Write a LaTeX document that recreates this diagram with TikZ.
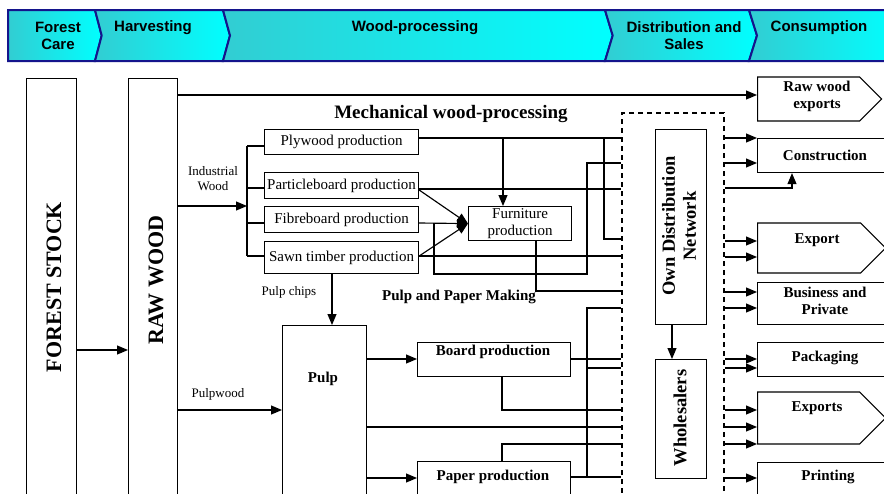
\documentclass[tikz,border=0pt]{standalone}
\usepackage{fontspec}
\setmainfont{Liberation Serif}
\newfontfamily\bannerfont{Liberation Sans}
\usetikzlibrary{arrows.meta,shapes.symbols}
\definecolor{navyb}{RGB}{20,20,140}
\definecolor{tealc}{RGB}{50,205,210}
\definecolor{cyanc}{RGB}{0,255,255}
\begin{document}
\begin{tikzpicture}[x=1pt,y=-1pt,line width=1.15pt,
  box/.style={draw,line width=1.15pt,inner sep=0pt,anchor=north west},
  sig/.style={draw,line width=1.15pt,inner sep=0pt,anchor=west,signal,signal to=east,signal pointer angle=90},
  arr/.style={-{Triangle[length=11pt,width=9pt]}},
  seg/.style={left color=tealc,right color=cyanc,draw=navyb,line width=2pt,line join=miter},
  btxt/.style={font=\bannerfont\bfseries\fontsize{15}{17}\selectfont,align=center,inner sep=0pt},
  ntxt/.style={font=\fontsize{15}{17}\selectfont,align=center,inner sep=0pt},
  stxt/.style={font=\fontsize{13}{15}\selectfont,align=center,inner sep=0pt},
  btx/.style={font=\bfseries\fontsize{15}{17}\selectfont,align=center,inner sep=0pt},
  bigtxt/.style={font=\bfseries\fontsize{22}{24}\selectfont,inner sep=0pt,rotate=90},
  vtxt/.style={font=\bfseries\fontsize{18.5}{21}\selectfont,align=center,inner sep=0pt,rotate=90},
  dashbox/.style={draw,line width=2pt,dash pattern=on 5pt off 4pt,inner sep=0pt,anchor=north west}]
\useasboundingbox (0,0) rectangle (884,493);
\clip (0,0) rectangle (884,493);
\fill[white] (0,0) rectangle (884,493);
% ---------- banner ----------
\shadedraw[seg] (8,10) -- (95,10) -- (101.7,35.5) -- (95,61) -- (8,61) -- cycle;
\shadedraw[seg] (95,10) -- (223,10) -- (230,35.5) -- (223,61) -- (95,61) -- (101.7,35.5) -- cycle;
\shadedraw[seg] (223,10) -- (605,10) -- (612.7,35.5) -- (605,61) -- (223,61) -- (230,35.5) -- cycle;
\shadedraw[seg] (605,10) -- (749,10) -- (757,35.5) -- (749,61) -- (605,61) -- (612.7,35.5) -- cycle;
\shadedraw[seg] (749,10) -- (900,10) -- (900,61) -- (749,61) -- (757,35.5) -- cycle;
\node[btxt] (b1) at (58,36) {Forest\\Care};
\node[btxt] (b2) at (153,28) {Harvesting};
\node[btxt] (b3) at (415,28) {Wood-processing};
\node[btxt] (b4) at (684,36) {Distribution and\\Sales};
\node[btxt] (b5) at (819,28) {Consumption};
% ---------- boxes ----------
\node[box,minimum width=50pt,minimum height=450pt] (fs) at (26,78) {};
\node[bigtxt] (fst) at (54,287) {FOREST STOCK};
\node[box,minimum width=49pt,minimum height=450pt] (rw) at (128,78) {};
\node[bigtxt] (rwt) at (156,280) {RAW WOOD};
\node[box,minimum width=154pt,minimum height=25pt,ntxt] (ply) at (264,129) {Plywood production};
\node[box,minimum width=154pt,minimum height=26pt,ntxt] (part) at (264,172) {Particleboard production};
\node[box,minimum width=154pt,minimum height=26pt,ntxt] (fibre) at (264,206) {Fibreboard production};
\node[box,minimum width=154pt,minimum height=32pt,ntxt] (sawn) at (264,241) {Sawn timber production};
\node[box,minimum width=103pt,minimum height=34pt,ntxt] (furn) at (468,206) {Furniture\\production};
\node[box,minimum width=84pt,minimum height=200pt] (pulp) at (282,325) {};
\node[btx] (pulpt) at (323,379) {Pulp};
\node[box,minimum width=153pt,minimum height=34pt] (board) at (417,342) {};
\node[btx] (boardt) at (493,352) {Board production};
\node[box,minimum width=153pt,minimum height=50pt] (paper) at (417,461) {};
\node[btx] (papert) at (493,477) {Paper production};
\node[dashbox,minimum width=102pt,minimum height=420pt] (dbox) at (621,112) {};
\node[box,minimum width=51pt,minimum height=195pt] (odn) at (655,129) {};
\node[vtxt] (odnt) at (679,226) {Own Distribution\\Network};
\node[box,minimum width=51pt,minimum height=119pt] (whole) at (655,359) {};
\node[vtxt] (wholet) at (680,418) {Wholesalers};
% labels
\node[font=\bfseries\fontsize{19}{21}\selectfont,inner sep=0pt] (mech) at (451,114) {Mechanical wood-processing};
\node[btx] (ppm) at (459,297) {Pulp and Paper Making};
\node[stxt] (indw) at (213,179) {Industrial\\Wood};
\node[stxt] (pch) at (289,292) {Pulp chips};
\node[stxt] (pw) at (218,394) {Pulpwood};
% ---------- consumption ----------
\node[sig,minimum width=124pt,minimum height=44pt] (rwe) at (757,99) {};
\node[btx] (rwet) at (817,96) {Raw wood\\exports};
\node[box,minimum width=140pt,minimum height=34pt] (cons) at (757,138) {};
\node[btx] (const) at (825,155) {Construction};
\node[sig,minimum width=128pt,minimum height=50pt] (exp) at (757,248) {};
\node[btx] (expt) at (817,240) {Export};
\node[box,minimum width=140pt,minimum height=42pt] (bus) at (757,282) {};
\node[btx] (bust) at (825,301) {Business and\\Private};
\node[box,minimum width=140pt,minimum height=34pt] (pack) at (757,342) {};
\node[btx] (packt) at (825,358) {Packaging};
\node[sig,minimum width=128pt,minimum height=52pt] (exps) at (757,418) {};
\node[btx] (expst) at (817,408) {Exports};
\node[box,minimum width=140pt,minimum height=50pt] (print) at (757,462) {};
\node[btx] (printt) at (828,477) {Printing};
% ---------- connectors ----------
\draw[arr] (fs.east |- 0,350) -- (rw.west |- 0,350);
\draw[arr] (rw.east |- 0,95) -- (rwe.west |- 0,95);
\coordinate (iwt) at (247,146);
\coordinate (iwb) at (247,256);
\coordinate (iw) at (247,206);
\draw[arr] (rw.east |- iw) -- (iw);
\draw (iwt) -- (iwb);
\draw (iwt) -- (ply.west |- iwt);
\draw (247,188) -- (part.west |- 0,188);
\draw (247,223) -- (fibre.west |- 0,223);
\draw (iwb) -- (sawn.west |- iwb);
\draw[arr] (rw.east |- 0,410) -- (pulp.west |- 0,410);
\draw[arr] (sawn.south -| 332,0) -- (pulp.north -| 332,0);
% mechanical
\draw (ply.east |- 0,138) -- (dbox.west |- 0,138);
\draw[arr] (503,138) -- (furn.north -| 503,0);
\draw (604,138) -- (604,239) -- (dbox.west |- 0,239);
\draw (part.east |- 0,189) -- (dbox.west |- 0,189);
\draw (sawn.east |- 0,256) -- (dbox.west |- 0,256);
\draw (434,223) -- (434,274) -- (587,274) -- (587,163) -- (dbox.west |- 0,163);
\draw[arr] (part.east |- 0,190) -- (furn.west);
\draw[arr] (fibre.east |- 0,223) -- (furn.west);
\draw[arr] (sawn.east |- 0,256) -- (furn.west);
\draw (furn.south -| 536,0) -- (536,291) -- (dbox.west |- 0,291);
% pulp and paper
\draw[arr] (pulp.east |- 0,359) -- (board.west |- 0,359);
\draw (board.east |- 0,359) -- (dbox.west |- 0,359);
\draw (board.south -| 502,0) -- (502,410) -- (dbox.west |- 0,410);
\draw (pulp.east |- 0,427) -- (dbox.west |- 0,427);
\draw[arr] (pulp.east |- 0,478) -- (paper.west |- 0,478);
\draw (paper.east |- 0,477) -- (dbox.west |- 0,477);
\draw (paper.north -| 502,0) -- (502,444) -- (dbox.west |- 0,444);
\draw (587,477) -- (587,308) -- (dbox.west |- 0,308);
\draw (587,368) -- (dbox.west |- 0,368);
% distribution
\draw[arr] (odn.south -| 672,0) -- (whole.north -| 672,0);
% to consumption
\foreach \yy in {138,163} \draw[arr] (dbox.east |- 0,\yy) -- (cons.west |- 0,\yy);
\draw[arr] (dbox.east |- 0,188) -- (792,188) -- (cons.south -| 792,0);
\foreach \yy in {241,257} \draw[arr] (dbox.east |- 0,\yy) -- (exp.west |- 0,\yy);
\foreach \yy in {292,308} \draw[arr] (dbox.east |- 0,\yy) -- (bus.west |- 0,\yy);
\foreach \yy in {359,368} \draw[arr] (dbox.east |- 0,\yy) -- (pack.west |- 0,\yy);
\foreach \yy in {410,427,444} \draw[arr] (dbox.east |- 0,\yy) -- (exps.west |- 0,\yy);
\draw[arr] (dbox.east |- 0,478) -- (print.west |- 0,478);
\end{tikzpicture}
\end{document}
